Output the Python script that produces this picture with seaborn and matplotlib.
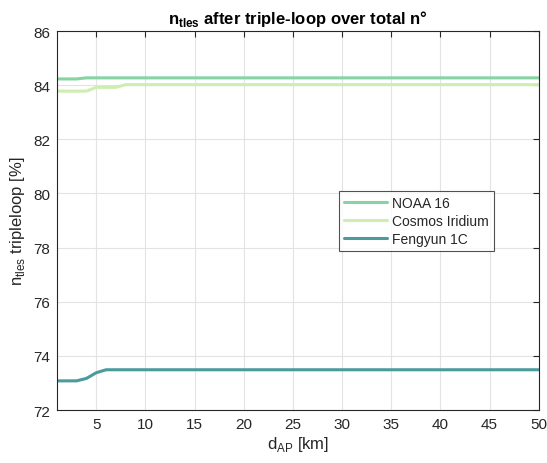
import numpy as np
import pandas as pd
import matplotlib
matplotlib.use("Agg")
import matplotlib.pyplot as plt
import seaborn as sns

d_ap = list(range(1, 51))
noaa16 = [84.23, 84.23, 84.23] + [84.27] * 47
cosmos = [83.78, 83.78, 83.78, 83.78, 83.92, 83.92, 83.92] + [84.02] * 43
fengyun = [73.08, 73.08, 73.08, 73.17, 73.38] + [73.49] * 45

series_names = ["NOAA 16", "Cosmos Iridium", "Fengyun 1C"]
colors = ["#86d3a3", "#cdeeb0", "#4b9a9c"]

df = pd.concat([
    pd.DataFrame({"d": d_ap, "v": vals, "s": name})
    for name, vals in zip(series_names, [noaa16, cosmos, fengyun])
])

sns.set_style("white")
plt.rcParams['font.family'] = ['Liberation Sans', 'DejaVu Sans']
plt.rcParams['mathtext.fontset'] = 'custom'
plt.rcParams['mathtext.rm'] = 'Liberation Sans'
plt.rcParams['mathtext.bf'] = 'Liberation Sans:bold'

fig = plt.figure(figsize=(5.47, 4.64), dpi=100)
ax = fig.add_axes([0.104, 0.114, 0.881, 0.817])

sns.lineplot(data=df, x="d", y="v", hue="s", palette=dict(zip(series_names, colors)),
             linewidth=2.2, ax=ax, legend=True)

ax.set_xlim(1, 50)
ax.set_ylim(72, 86)
ax.set_xticks([5, 10, 15, 20, 25, 30, 35, 40, 45, 50])
ax.set_yticks([72, 74, 76, 78, 80, 82, 84, 86])
ax.grid(True, color="#e3e3e3", linewidth=0.8)
ax.tick_params(direction="in", length=4, width=0.8, labelsize=11, colors="#262626", top=True, right=True,
               labeltop=False, labelright=False, pad=5)
for sp in ax.spines.values():
    sp.set_color("#262626")
    sp.set_linewidth(0.8)

ax.set_xlabel(r"d$_{\mathrm{AP}}$ [km]", fontsize=12, color="#262626", labelpad=2)
ax.set_ylabel(r"n$_{\mathrm{tles}}$ tripleloop [%]", fontsize=12, color="#262626", labelpad=4)
ax.set_title(r"n$_{\mathbf{tles}}$ after triple-loop over total n°", fontsize=12, fontweight="bold",
             color="#000000", pad=6)

leg = ax.legend(loc="upper right", bbox_to_anchor=(0.907, 0.578), borderaxespad=0, frameon=True,
                fancybox=False, edgecolor="#262626", fontsize=10, handlelength=3.1, borderpad=0.35,
                labelspacing=0.3, handletextpad=0.4)
leg.get_frame().set_linewidth(0.8)

fig.savefig("out.png", dpi=100)
